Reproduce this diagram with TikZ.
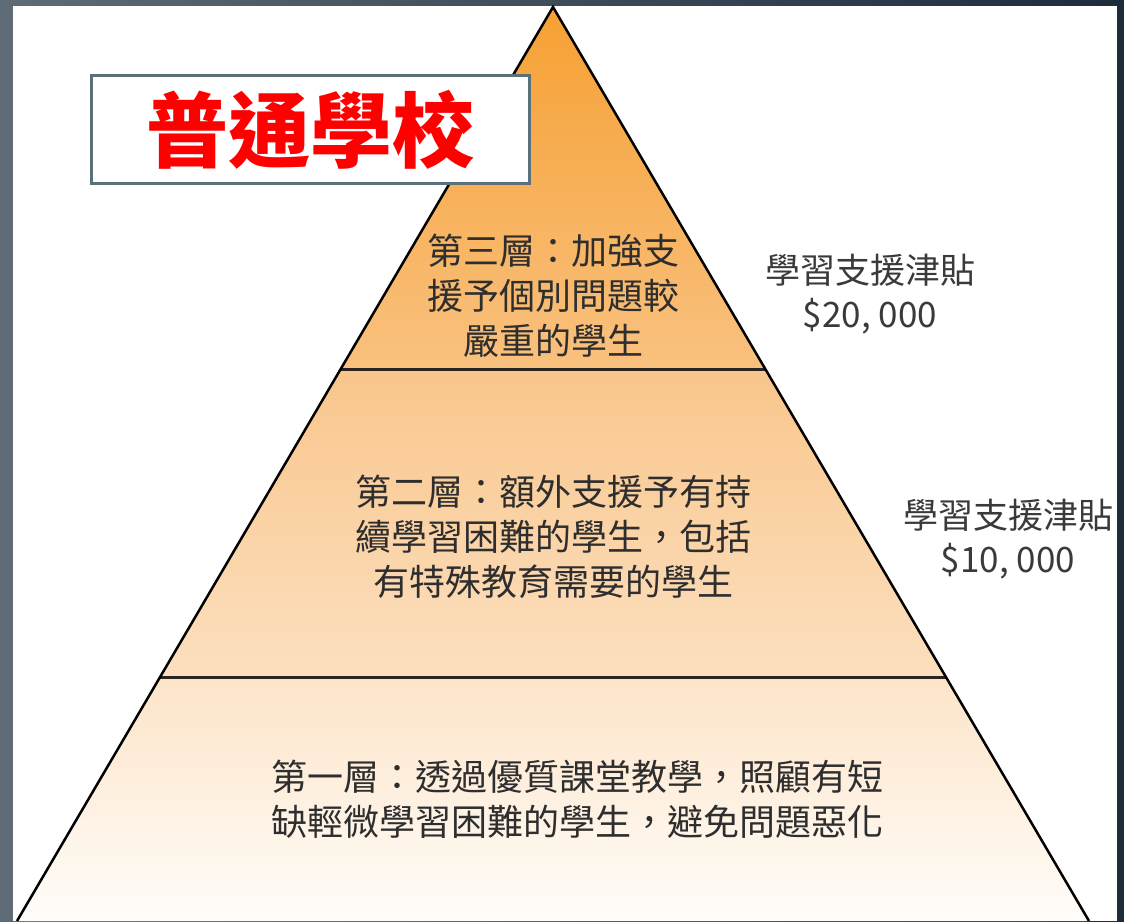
\documentclass[tikz,border=0pt]{standalone}
\usepackage{fontspec}
\setmainfont{Noto Sans CJK TC}
\definecolor{bgL}{HTML}{5F6B76}
\definecolor{bgR}{HTML}{1E2B3B}
\definecolor{tA}{HTML}{F6A033}
\definecolor{tB}{HTML}{F9C17F}
\definecolor{mA}{HTML}{F9C68B}
\definecolor{mB}{HTML}{FCDFBF}
\definecolor{bA}{HTML}{FDE4C8}
\definecolor{bB}{HTML}{FFFDFA}
\definecolor{boxc}{HTML}{5A707A}
\definecolor{txt}{HTML}{2E2E2E}
\definecolor{lbl}{HTML}{3A3A3A}
\definecolor{divc}{HTML}{2A2520}
\tikzset{
  tiertext/.style={text=txt, align=center, inner sep=0pt, font=\fontsize{36}{45}\selectfont},
  sidelabel/.style={text=lbl, align=center, inner sep=0pt, font=\fontsize{35}{44}\selectfont},
  titlebox/.style={draw=boxc, line width=3pt, fill=white, minimum width=438pt, minimum height=108pt, inner sep=0pt,
    text=red, font=\fontsize{82}{90}\selectfont\bfseries},
  outline/.style={draw=black, line width=2.5pt, line join=miter},
  divider/.style={draw=divc, line width=3pt}
}
\begin{document}
\begin{tikzpicture}[x=1pt,y=-1pt]
\useasboundingbox (0,0) rectangle (1124,921);
\shade[left color=bgL, right color=bgR] (0,0) rectangle (1124,921);
\fill[white] (13,6) rectangle (1117,921);
\coordinate (A) at (553,7);
\coordinate (L1) at (341,369);
\coordinate (R1) at (765,369);
\coordinate (L2) at (160,677);
\coordinate (R2) at (946,677);
\coordinate (BL) at (17,921);
\coordinate (BR) at (1089,921);
\shade[top color=tA, bottom color=tB] (A) -- (R1) -- (L1) -- cycle;
\shade[top color=mA, bottom color=mB] (L1) -- (R1) -- (R2) -- (L2) -- cycle;
\shade[top color=bA, bottom color=bB] (L2) -- (R2) -- (BR) -- (BL) -- cycle;
\draw[divider] (L1) -- (R1);
\draw[divider] (L2) -- (R2);
\draw[outline] (BL) -- (A) -- (BR);
\node[titlebox] (title) at (310.5,129.5) {普通學校};
\node[tiertext] (t3) at (553,296) {第三層：加強支\\援予個別問題較\\嚴重的學生};
\node[tiertext] (t2) at (553,537) {第二層：額外支援予有持\\續學習困難的學生，包括\\有特殊教育需要的學生};
\node[tiertext] (t1) at (577,799) {第一層：透過優質課堂教學，照顧有短\\缺輕微學習困難的學生，避免問題惡化};
\node[sidelabel] (s3) at (870,294) {學習支援津貼\\\$20, 000};
\node[sidelabel] (s2) at (1008,539) {學習支援津貼\\\$10, 000};
\end{tikzpicture}
\end{document}
